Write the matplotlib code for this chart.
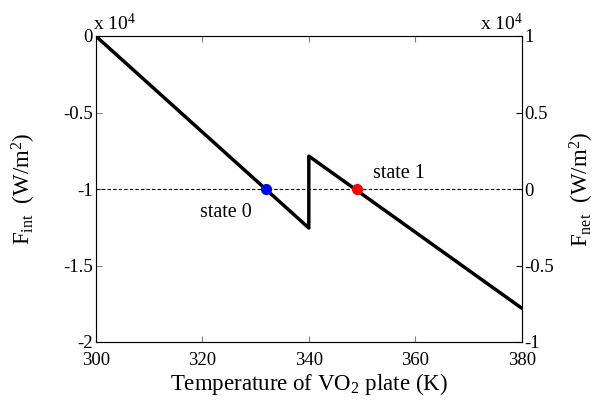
import numpy as np
import matplotlib
matplotlib.use('Agg')
import matplotlib.pyplot as plt

plt.rcParams['font.family']='Liberation Serif'
plt.rcParams['mathtext.fontset']='custom'
plt.rcParams['mathtext.rm']='Liberation Serif'
plt.rcParams['mathtext.it']='Liberation Serif'

# curve (y in units of 1e4 W/m^2)
temp=[300,340,340,380]
f_int=[0,-1.255,-0.785,-1.78]
state_T=[332,349]
state_F=[-1,-1]
state_col=['blue','red']
state_txt=['state 0','state 1']

fig=plt.figure(figsize=(6.02,4.0),dpi=100)
ax=fig.add_axes([0.159,0.145,0.708,0.765])
ax.plot(temp,f_int,color='black',lw=2.5)
ax.axhline(-1,color='black',lw=0.8,ls=(0,(3,2)))
for t,f,c in zip(state_T,state_F,state_col):
	ax.plot(t,f,'o',color=c,ms=7,zorder=5)
ax.text(319.5,-1.09,state_txt[0],fontsize=14.5,va='top')
ax.text(352,-0.93,state_txt[1],fontsize=14.5,va='baseline')

ax.set_xlim(300,380)
ax.set_ylim(-2,0)
ax.set_xticks([300,320,340,360,380])
ax.set_yticks([-2,-1.5,-1,-0.5,0])
ax.set_yticklabels(['-2','-1.5','-1','-0.5','0'])
ax.tick_params(direction='in',labelsize=13.5,top=True,length=4,color='#808080',pad=2)
ax.tick_params(axis='x',pad=7)
for s in ax.spines.values():
	s.set_color('#808080')
ax.set_xlabel('Temperature of VO$_2$ plate (K)',fontsize=16.5,labelpad=1.5)
ax.set_ylabel('F$_{\\rm int}$  (W/m$^2$)',fontsize=16.5,labelpad=18)

ax2=ax.twinx()
ax2.set_ylim(-1,1)
ax2.set_yticks([-1,-0.5,0,0.5,1])
ax2.set_yticklabels(['-1','-0.5','0','0.5','1'])
ax2.tick_params(direction='in',labelsize=13.5,length=4,pad=2)
ax2.spines['right'].set_color('black')
ax2.set_ylabel('F$_{\\rm net}$  (W/m$^2$)',fontsize=16.5,rotation=90,labelpad=10)

fig.text(0.155,0.925,'x 10$^4$',fontsize=14)
fig.text(0.868,0.925,'x 10$^4$',fontsize=14,ha='right')

fig.savefig('out.png',dpi=100)
